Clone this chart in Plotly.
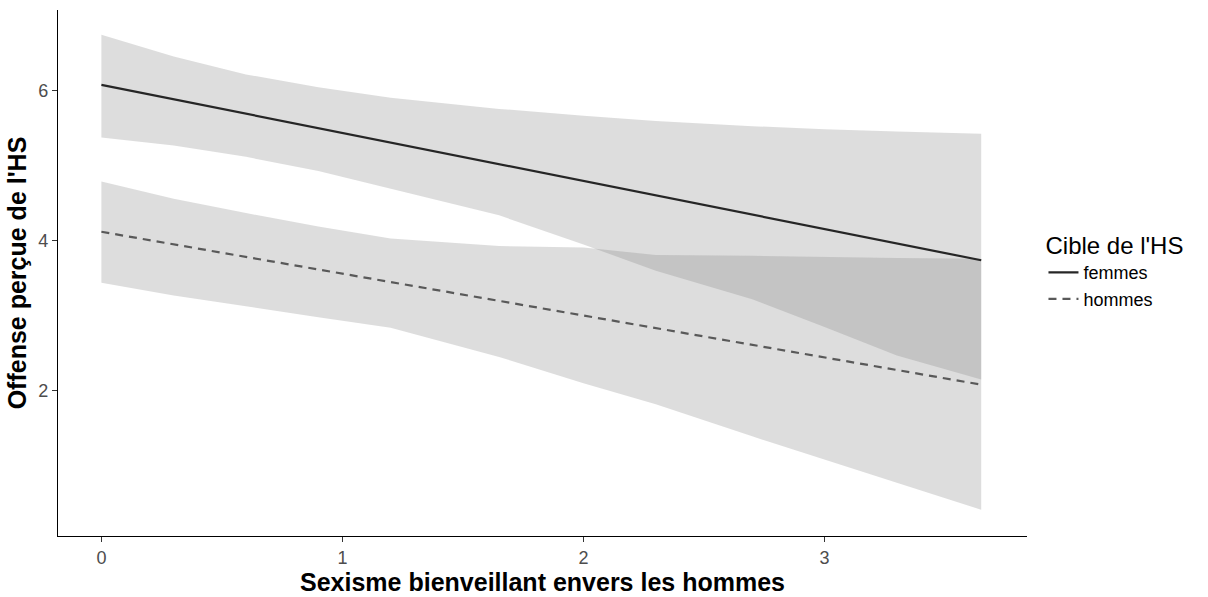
import plotly.graph_objects as go

# Data
x_line = [0.0, 3.65]
femmes_line = [6.08, 3.74]
hommes_line = [4.12, 2.08]

x_band = [0.0, 0.3, 0.6, 0.9, 1.2, 1.65, 2.0, 2.3, 2.7, 3.0, 3.3, 3.65]
femmes_upper = [6.75, 6.46, 6.22, 6.05, 5.91, 5.76, 5.67, 5.60, 5.53, 5.49, 5.46, 5.43]
femmes_lower = [5.38, 5.27, 5.12, 4.93, 4.70, 4.34, 3.95, 3.60, 3.22, 2.85, 2.47, 2.15]
hommes_upper = [4.79, 4.56, 4.37, 4.19, 4.03, 3.93, 3.91, 3.81, 3.80, 3.78, 3.77, 3.76]
hommes_lower = [3.44, 3.27, 3.12, 2.98, 2.84, 2.45, 2.10, 1.82, 1.39, 1.08, 0.77, 0.41]

x_ticks = [0, 1, 2, 3]
y_ticks = [2, 4, 6]

FONT = "Liberation Sans, Arial, sans-serif"
band_fill = "rgba(130,130,130,0.27)"

fig = go.Figure()

for up, lo in [(femmes_upper, femmes_lower), (hommes_upper, hommes_lower)]:
    fig.add_trace(go.Scatter(
        x=x_band + x_band[::-1], y=up + lo[::-1],
        fill="toself", fillcolor=band_fill, mode="lines",
        line=dict(width=0), hoverinfo="skip", showlegend=False))

fig.add_trace(go.Scatter(x=x_line, y=femmes_line, mode="lines", name="femmes",
                         line=dict(color="#262626", width=2.2)))
fig.add_trace(go.Scatter(x=x_line, y=hommes_line, mode="lines", name="hommes",
                         line=dict(color="#595959", width=2.2, dash="8px,6px")))

fig.update_layout(
    width=1208, height=597,
    margin=dict(l=58, r=181, t=10, b=55),
    paper_bgcolor="white", plot_bgcolor="white",
    font=dict(family=FONT, color="#4d4d4d", size=18),
    legend=dict(
        title=dict(text="Cible de l'HS", font=dict(size=24, color="black", family=FONT)),
        x=1.017, xanchor="left", y=0.595, yanchor="top",
        font=dict(size=18, color="black", family=FONT),
        tracegroupgap=0, itemwidth=30,
    ),
)

fig.update_xaxes(
    range=[-0.18, 3.84], tickvals=x_ticks, ticktext=[str(v) for v in x_ticks],
    showline=True, linecolor="black", linewidth=1.2, showgrid=False, zeroline=False,
    ticks="outside", ticklen=5, tickcolor="#333333", tickfont=dict(size=18, color="#4d4d4d"),
    title=dict(text="<b>Sexisme bienveillant envers les hommes</b>",
               font=dict(size=25, color="black", family=FONT), standoff=2),
)
fig.update_yaxes(
    range=[0.06, 7.08], tickvals=y_ticks, ticktext=[str(v) for v in y_ticks],
    showline=True, linecolor="black", linewidth=1.2, showgrid=False, zeroline=False,
    ticks="outside", ticklen=5, tickcolor="#333333", tickfont=dict(size=18, color="#4d4d4d"),
    title=dict(text="<b>Offense perçue de l'HS</b>",
               font=dict(size=25, color="black", family=FONT), standoff=4),
)

fig.write_html("out.html")
